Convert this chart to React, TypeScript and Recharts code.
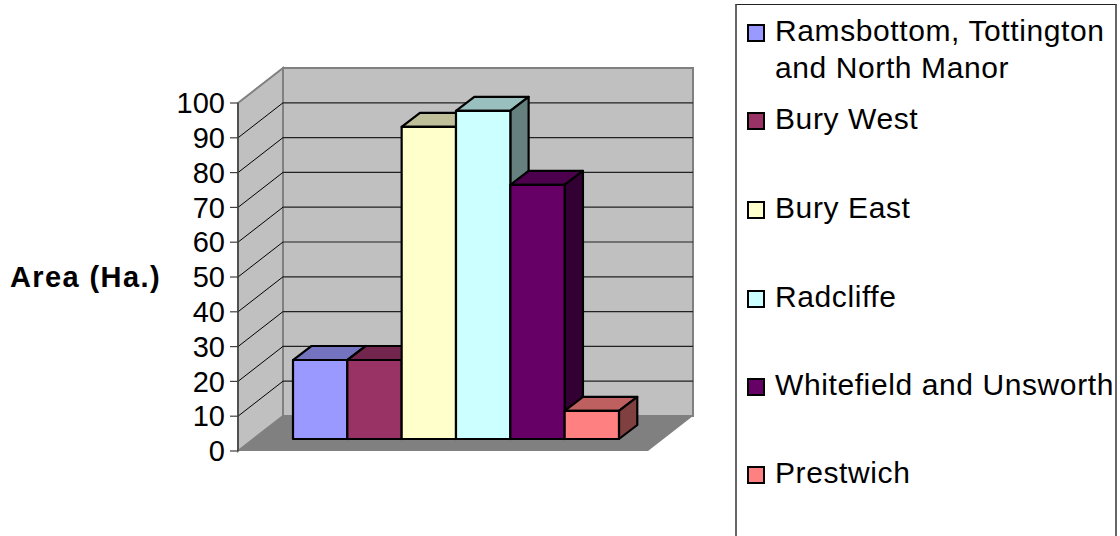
import { Bar, BarChart, CartesianGrid, Legend, XAxis, YAxis } from "recharts";

const SERIES_NAMES = [
  "Ramsbottom, Tottington and North Manor",
  "Bury West",
  "Bury East",
  "Radcliffe",
  "Whitefield and Unsworth",
  "Prestwich",
];
const SERIES_VALUES = [22.7, 22.7, 89.7, 94.3, 73, 8.1];
const SERIES_COLORS = ["#9999FF", "#993366", "#FFFFCC", "#CCFFFF", "#660066", "#FF8080"];
const Y_TICKS = [0, 10, 20, 30, 40, 50, 60, 70, 80, 90, 100];
const LEGEND_ROW_TOPS = [7, 95, 184, 273, 361, 449];

const row: Record<string, number | string> = { name: "Area" };
SERIES_NAMES.forEach((name, i) => {
  row[name] = SERIES_VALUES[i];
});
const chartData = [row];

const FONT = '"Liberation Sans", Arial, sans-serif';

// plot area edges and the 3D box depth
const LEFT = 238;
const RIGHT = 648;
const TOP = 103;
const BOTTOM = 451;
const WALL_DX = 45;
const WALL_DY = -35;
// bars stand part way into the box
const BAR_SHIFT_X = 15.4;
const BAR_SHIFT_Y = -12;
const BAR_DX = 18.3;
const BAR_DY = -14;

const points = (list: number[][]) => list.map((p) => p.join(",")).join(" ");

function shade(hex: string, k: number) {
  const n = parseInt(hex.slice(1), 16);
  const part = (v: number) => Math.round(v * k);
  return `rgb(${part((n >> 16) & 255)},${part((n >> 8) & 255)},${part(n & 255)})`;
}

function Box3D(props: any) {
  const { x, y, width, height, fill } = props;
  const l = x + BAR_SHIFT_X;
  const r = l + width;
  const t = y + BAR_SHIFT_Y;
  const b = t + height;
  const edge = { stroke: "#000", strokeWidth: 2.2, strokeLinejoin: "round" as const };
  return (
    <g>
      <polygon
        points={points([[l, t], [l + BAR_DX, t + BAR_DY], [r + BAR_DX, t + BAR_DY], [r, t]])}
        fill={shade(fill, 0.75)}
        {...edge}
      />
      <polygon
        points={points([[r, t], [r + BAR_DX, t + BAR_DY], [r + BAR_DX, b + BAR_DY], [r, b]])}
        fill={shade(fill, 0.5)}
        {...edge}
      />
      <rect x={l} y={t} width={width} height={height} fill={fill} {...edge} />
    </g>
  );
}

// back wall, side wall and floor, sits under the transparent chart svg
function Walls() {
  const wallEdge = { stroke: "#808080", strokeWidth: 2 };
  return (
    <svg width={1120} height={536} style={{ position: "absolute", left: 0, top: 0 }}>
      <polygon
        points={points([[LEFT, BOTTOM], [LEFT + WALL_DX, BOTTOM + WALL_DY], [RIGHT + WALL_DX, BOTTOM + WALL_DY], [RIGHT, BOTTOM]])}
        fill="#808080"
      />
      <polygon
        points={points([[LEFT, TOP], [LEFT + WALL_DX, TOP + WALL_DY], [LEFT + WALL_DX, BOTTOM + WALL_DY], [LEFT, BOTTOM]])}
        fill="#C0C0C0"
        {...wallEdge}
      />
      <polygon
        points={points([[LEFT + WALL_DX, TOP + WALL_DY], [RIGHT + WALL_DX, TOP + WALL_DY], [RIGHT + WALL_DX, BOTTOM + WALL_DY], [LEFT + WALL_DX, BOTTOM + WALL_DY]])}
        fill="#C0C0C0"
        {...wallEdge}
      />
    </svg>
  );
}

// each gridline runs up the side wall and across the back wall
function WallGridLine(props: any) {
  const { x1, x2, y1, index } = props;
  if (index === 0 || index === Y_TICKS.length - 1) return <g key={index} />;
  return (
    <g key={index} fill="none">
      <line x1={x1} y1={y1} x2={x1 + WALL_DX} y2={y1 + WALL_DY} stroke="#000" strokeWidth={1} />
      <line x1={x1 + WALL_DX} y1={y1 + WALL_DY} x2={x2 + WALL_DX} y2={y1 + WALL_DY} stroke="#222" strokeWidth={1.2} />
    </g>
  );
}

function LegendBox({ payload }: any) {
  return (
    <div
      style={{
        position: "relative",
        boxSizing: "border-box",
        width: 382,
        height: 545,
        background: "#fff",
        borderTop: "1px solid #222",
        borderLeft: "2px solid #666",
        borderRight: "2px solid #666",
        fontFamily: FONT,
        fontSize: 30,
        letterSpacing: 0.6,
        lineHeight: "37px",
        color: "#000",
      }}
    >
      {(payload ?? []).map((item: any, i: number) => (
        <div key={item.value} style={{ position: "absolute", left: 10, top: LEGEND_ROW_TOPS[i], width: 368 }}>
          <span
            style={{
              position: "absolute",
              left: 0,
              top: 12,
              width: 14,
              height: 14,
              background: item.color,
              border: "2px solid #000",
            }}
          />
          <div style={{ marginLeft: 28 }}>{item.value}</div>
        </div>
      ))}
    </div>
  );
}

export default function App() {
  return (
    <div style={{ position: "absolute", left: 0, top: 0, width: 1120, height: 536, overflow: "hidden", background: "#fff" }}>
      <Walls />
      <BarChart
        width={1120}
        height={536}
        data={chartData}
        margin={{ top: TOP, right: 1120 - RIGHT, bottom: 536 - BOTTOM, left: 0 }}
        barGap={0}
        barCategoryGap={0}
        style={{ fontFamily: FONT }}
      >
        <CartesianGrid vertical={false} horizontal={WallGridLine} syncWithTicks />
        <XAxis
          dataKey="name"
          height={0}
          tick={false}
          tickLine={false}
          axisLine={{ stroke: "#404040", strokeWidth: 1.5 }}
          padding={{ left: 39.6, right: 44.4 }}
        />
        <YAxis
          width={LEFT}
          domain={[0, 100]}
          ticks={Y_TICKS}
          interval={0}
          tickSize={8}
          tickMargin={5}
          axisLine={{ stroke: "#404040", strokeWidth: 1.5 }}
          tickLine={{ stroke: "#404040", strokeWidth: 1.2 }}
          tick={{ fill: "#000", fontSize: 29 }}
          label={{
            value: "Area (Ha.)",
            position: "insideLeft",
            offset: 10,
            fill: "#000",
            fontSize: 29,
            fontWeight: 700,
            letterSpacing: 1.4,
          }}
        />
        <Legend
          layout="horizontal"
          verticalAlign="middle"
          align="center"
          itemSorter={null}
          content={<LegendBox />}
          wrapperStyle={{ left: 735, top: 4, width: 382, height: 545, bottom: "auto", right: "auto" }}
        />
        {SERIES_NAMES.map((name, i) => (
          <Bar
            key={name}
            dataKey={name}
            fill={SERIES_COLORS[i]}
            barSize={54.33}
            shape={Box3D}
            isAnimationActive={false}
          />
        ))}
      </BarChart>
    </div>
  );
}
